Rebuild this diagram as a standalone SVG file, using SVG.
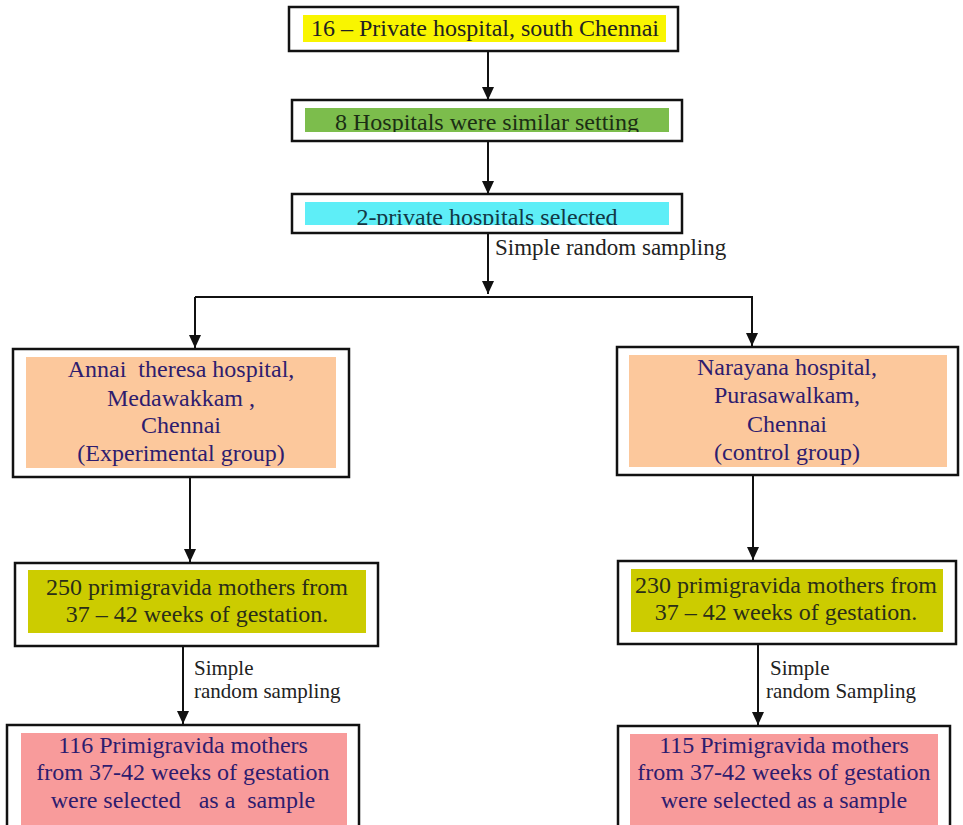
<svg xmlns="http://www.w3.org/2000/svg" width="963" height="825" viewBox="0 0 963 825" font-family="Liberation Serif">
<style>
  .frame{fill:#fff;stroke:#111;stroke-width:2.5}
  .t{font-family:'Liberation Serif',serif;font-size:24px;text-anchor:middle}
  .lbl{font-family:'Liberation Serif',serif;font-size:21px;fill:#222}
  .conn{stroke:#111;stroke-width:2;fill:none}
  .dark{fill:#222}
  .navy{fill:#2e1c6e}
</style>
<defs>
  <marker id="ah" markerUnits="userSpaceOnUse" markerWidth="14" markerHeight="14" refX="13" refY="6" orient="auto">
    <path d="M0,0 L13,6 L0,12 Z" fill="#111"/>
  </marker>
  <clipPath id="c2"><rect x="305" y="108" width="364" height="24"/></clipPath>
  <clipPath id="c3"><rect x="305" y="202" width="364" height="23"/></clipPath>
</defs>
<rect width="963" height="825" fill="#fff"/>

<g id="n1">
  <rect class="frame" x="289" y="7" width="389" height="44"/>
  <rect x="303" y="15" width="363" height="27" fill="#f9f500"/>
  <text class="t dark" x="485" y="36">16 – Private hospital, south Chennai</text>
</g>
<g id="n2">
  <rect class="frame" x="292" y="100" width="390" height="41"/>
  <rect x="305" y="108" width="364" height="24" fill="#7cbd4c"/>
  <text class="t" x="487" y="130" fill="#1b2e14" clip-path="url(#c2)">8 Hospitals were similar setting</text>
</g>
<g id="n3">
  <rect class="frame" x="292" y="194" width="390" height="39"/>
  <rect x="305" y="202" width="364" height="23" fill="#5eeef7"/>
  <text class="t" x="487" y="225" fill="#123845" clip-path="url(#c3)">2-private hospitals selected</text>
</g>
<g id="n4l">
  <rect class="frame" x="13" y="349" width="336" height="128"/>
  <rect x="26" y="357" width="310" height="111" fill="#fcc89c"/>
  <text class="t navy" x="181" y="377" xml:space="preserve">Annai  theresa hospital,</text>
  <text class="t navy" x="181" y="406">Medawakkam ,</text>
  <text class="t navy" x="181" y="433">Chennai</text>
  <text class="t navy" x="181" y="461">(Experimental group)</text>
</g>
<g id="n4r">
  <rect class="frame" x="617" y="347" width="341" height="128"/>
  <rect x="629" y="355" width="318" height="112" fill="#fcc89c"/>
  <text class="t navy" x="787" y="375">Narayana hospital,</text>
  <text class="t navy" x="787" y="403">Purasawalkam,</text>
  <text class="t navy" x="787" y="432">Chennai</text>
  <text class="t navy" x="787" y="460">(control group)</text>
</g>
<g id="n5l">
  <rect class="frame" x="15" y="563" width="363" height="83"/>
  <rect x="28" y="570" width="338" height="63" fill="#cccc00"/>
  <text class="t" x="197" y="595" fill="#2a2e18">250 primigravida mothers from</text>
  <text class="t" x="197" y="622" fill="#2a2e18">37 – 42 weeks of gestation.</text>
</g>
<g id="n5r">
  <rect class="frame" x="618" y="561" width="338" height="83"/>
  <rect x="631" y="569" width="312" height="63" fill="#cccc00"/>
  <text class="t" x="786" y="593" fill="#2a2e18">230 primigravida mothers from</text>
  <text class="t" x="786" y="620" fill="#2a2e18">37 – 42 weeks of gestation.</text>
</g>
<g id="n6l">
  <rect class="frame" x="7" y="725" width="352" height="110"/>
  <rect x="21" y="733" width="326" height="100" fill="#f89b9b"/>
  <text class="t navy" x="183" y="753">116 Primigravida mothers</text>
  <text class="t navy" x="183" y="780">from 37-42 weeks of gestation</text>
  <text class="t navy" x="183" y="808" xml:space="preserve">were selected   as a  sample</text>
</g>
<g id="n6r">
  <rect class="frame" x="618" y="726" width="332" height="110"/>
  <rect x="630" y="734" width="308" height="100" fill="#f89b9b"/>
  <text class="t navy" x="784" y="753">115 Primigravida mothers</text>
  <text class="t navy" x="784" y="780">from 37-42 weeks of gestation</text>
  <text class="t navy" x="784" y="808">were selected as a sample</text>
</g>

<g id="connectors">
  <line class="conn" x1="488" y1="52" x2="488" y2="100" marker-end="url(#ah)"/>
  <line class="conn" x1="488" y1="142" x2="488" y2="194" marker-end="url(#ah)"/>
  <line class="conn" x1="488" y1="234" x2="488" y2="294" marker-end="url(#ah)"/>
  <polyline class="conn" points="195,297 752,297 752,346" marker-end="url(#ah)"/>
  <line class="conn" x1="195" y1="297" x2="195" y2="348" marker-end="url(#ah)"/>
  <line class="conn" x1="190" y1="478" x2="190" y2="562" marker-end="url(#ah)"/>
  <line class="conn" x1="753" y1="476" x2="753" y2="560" marker-end="url(#ah)"/>
  <line class="conn" x1="183" y1="647" x2="183" y2="724" marker-end="url(#ah)"/>
  <line class="conn" x1="758" y1="645" x2="758" y2="725" marker-end="url(#ah)"/>
  <text class="lbl" x="495" y="255" style="font-size:23px">Simple random sampling</text>
  <text class="lbl" x="194" y="675">Simple</text>
  <text class="lbl" x="194" y="698">random sampling</text>
  <text class="lbl" x="770" y="675">Simple</text>
  <text class="lbl" x="766" y="698">random Sampling</text>
</g>
</svg>
